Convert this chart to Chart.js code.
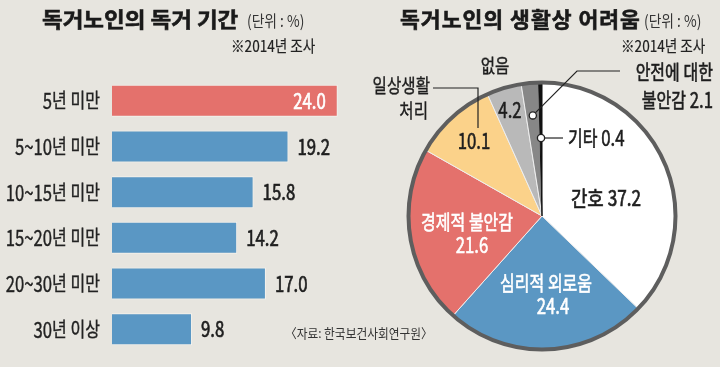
<!DOCTYPE html>
<html><head><meta charset="utf-8">
<script src="https://cdn.jsdelivr.net/npm/chart.js@4/dist/chart.umd.min.js"></script>
<style>
html,body{margin:0;padding:0;background:#e7e5df;}
#wrap{position:relative;width:720px;height:367px;overflow:hidden;background:#e7e5df;color:#222;font-family:"Noto Sans CJK KR",sans-serif;}
.t{position:absolute;white-space:nowrap;line-height:1;transform-origin:0 0;}
.title{font-weight:700;font-size:21px;color:#1a1a1a;-webkit-text-stroke:0.6px #1a1a1a;}
.unit{font-size:16px;color:#333;transform:scaleX(0.86);}
.note{font-size:16px;color:#222;transform:scaleX(0.85);-webkit-text-stroke:0.2px #222;}
.src{font-size:13px;color:#333;transform:scaleX(0.9);}
canvas{position:absolute;}
</style></head><body>
<div id="wrap">
<canvas id="bar" width="360" height="367" style="left:0;top:0;width:360px;height:367px"></canvas>
<canvas id="pie" width="360" height="367" style="left:360px;top:0;width:360px;height:367px"></canvas>
<div class="t title" style="left:42px;top:8px;transform:scaleX(1.07)">독거노인의 독거 기간</div>
<div class="t unit" style="left:247px;top:12px">(단위 : %)</div>
<div class="t note" style="left:231px;top:37px">※2014년 조사</div>
<div class="t title" style="left:400px;top:8px;letter-spacing:1px;transform:scaleX(1.025)">독거노인의 생활상 어려움</div>
<div class="t unit" style="left:644px;top:12px">(단위 : %)</div>
<div class="t note" style="left:621px;top:37px">※2014년 조사</div>
<div class="t src" style="left:285px;top:326px">〈자료: 한국보건사회연구원〉</div>
</div>
<script>
// ---- data ----
const durationCategories = ['5년 미만','5~10년 미만','10~15년 미만','15~20년 미만','20~30년 미만','30년 이상'];
const durationValues = [24.0, 19.2, 15.8, 14.2, 17.0, 9.8];
const hardshipCategories = ['간호','심리적 외로움','경제적 불안감','일상생활 처리','없음','안전에 대한 불안감','기타'];
const hardshipValues = [37.2, 24.4, 21.6, 10.1, 4.2, 2.1, 0.4];

const KR = '"Noto Sans CJK KR",sans-serif';
const RED = '#e4716c', BLUE = '#5a97c4';

// condensed text: Hangul runs and other runs with own size / horizontal scale
function drawMixed(ctx, text, x, y, align, st, color){
  const runs = [];
  const re = /[\uAC00-\uD7A3\u3130-\u318F]+|[^\uAC00-\uD7A3\u3130-\u318F]+/g;
  let m;
  while((m = re.exec(text))){
    const isKr = /[\uAC00-\uD7A3\u3130-\u318F]/.test(m[0]);
    runs.push({s:m[0], size: isKr ? st.kr : st.num, sx: isKr ? st.krs : st.nums});
  }
  let total = 0;
  runs.forEach(r=>{ ctx.font = `${r.size}px ${KR}`; r.w = ctx.measureText(r.s).width * r.sx; total += r.w; });
  let cx = align==='center' ? x - total/2 : align==='right' ? x - total : x;
  runs.forEach(r=>{
    ctx.save();
    ctx.font = `${r.size}px ${KR}`;
    ctx.fillStyle = color; ctx.strokeStyle = color; ctx.lineWidth = st.bold || 0.5;
    ctx.textAlign = 'left'; ctx.textBaseline = 'middle';
    ctx.translate(cx, y); ctx.scale(r.sx, 1);
    ctx.fillText(r.s, 0, 0);
    ctx.strokeText(r.s, 0, 0);
    ctx.restore();
    cx += r.w;
  });
}

const ST_TICK = {kr:20, krs:0.8, num:22, nums:0.76, bold:0.4};
const ST_VAL = {kr:19, krs:0.8, num:21.5, nums:0.78, bold:0.7};

const barLabels = {
  id:'barLabels',
  afterDatasetsDraw(chart){
    const ctx = chart.ctx;
    const meta = chart.getDatasetMeta(0);
    const ys = chart.scales.y;
    ys.getLabels().forEach((lab,i)=>{
      drawMixed(ctx, lab, ys.right - 12, ys.getPixelForValue(i), 'right', ST_TICK, '#222');
    });
    meta.data.forEach((bar,i)=>{
      const v = durationValues[i].toFixed(1);
      if(i===0) drawMixed(ctx, v, bar.x-12, bar.y, 'right', ST_VAL, '#ffffff');
      else drawMixed(ctx, v, bar.x+9, bar.y, 'left', ST_VAL, '#1e1e1e');
    });
  }
};

new Chart(document.getElementById('bar'), {
  type:'bar',
  data:{
    labels: durationCategories,
    datasets:[{
      data: durationValues,
      backgroundColor: durationValues.map((v,i)=> i===0 ? RED : BLUE),
      borderColor:'#f4f2ee', borderWidth:1, borderSkipped:false,
      barPercentage:0.7, categoryPercentage:1
    }]
  },
  options:{
    indexAxis:'y', responsive:false, animation:false, events:[],
    layout:{padding:{top:78,bottom:15,right:12,left:0}},
    plugins:{legend:{display:false}, tooltip:{enabled:false}},
    scales:{
      x:{display:false, min:2, max:25},
      y:{
        grid:{display:false, drawTicks:false}, border:{display:false},
        ticks:{display:false},
        afterFit(s){ s.width = 112; s.paddingTop = 0; s.paddingBottom = 0; }
      }
    }
  },
  plugins:[barLabels]
});

const pieRing = {
  id:'pieRing',
  afterDatasetsDraw(chart){
    const a = chart.getDatasetMeta(0).data[0];
    const ctx = chart.ctx;
    ctx.save();
    ctx.beginPath();
    ctx.arc(a.x, a.y, a.outerRadius - 1, 0, Math.PI*2);
    ctx.lineWidth = 4; ctx.strokeStyle = '#5e5e5e'; ctx.stroke();
    ctx.restore();
  }
};

const ST_IN = {kr:20, krs:0.8, num:21.5, nums:0.78, bold:0.6};
const ST_OUT = {kr:19.5, krs:0.8, num:21, nums:0.78, bold:0.4};
const ST_BIG = {kr:21, krs:0.85, num:21.5, nums:0.8, bold:0.7};

const pieLabels = {
  id:'pieLabels',
  afterDraw(chart){
    const ctx = chart.ctx;
    const arcs = chart.getDatasetMeta(0).data;
    const cx = arcs[0].x, cy = arcs[0].y;
    const pt = (i, r)=>{ const m=(arcs[i].startAngle+arcs[i].endAngle)/2; return [cx + r*Math.cos(m), cy + r*Math.sin(m)]; };
    ctx.save();
    ctx.strokeStyle = '#222'; ctx.lineWidth = 1.2;
    ctx.beginPath();
    ctx.moveTo(cx-109, cy-128); ctx.lineTo(cx-64, cy-128); ctx.lineTo(cx-64, cy-88);
    ctx.stroke();
    const pSafe = pt(5, 101);
    ctx.beginPath(); ctx.moveTo(pSafe[0], pSafe[1]); ctx.lineTo(cx+35, cy-145); ctx.lineTo(cx+78, cy-145); ctx.stroke();
    const pEtc = pt(6, 78);
    ctx.beginPath(); ctx.moveTo(pEtc[0], pEtc[1]); ctx.lineTo(cx+21, pEtc[1]); ctx.stroke();
    [pSafe, pEtc].forEach(p=>{
      ctx.beginPath(); ctx.arc(p[0], p[1], 3.6, 0, Math.PI*2);
      ctx.fillStyle='#ffffff'; ctx.fill(); ctx.lineWidth=1.3; ctx.strokeStyle='#222'; ctx.stroke();
    });
    ctx.restore();
    drawMixed(ctx, `${hardshipCategories[0]} ${hardshipValues[0].toFixed(1)}`, cx+64, cy-18, 'center', ST_BIG, '#1e1e1e');
    drawMixed(ctx, hardshipCategories[1], cx+4, cy+67, 'center', ST_IN, '#ffffff');
    drawMixed(ctx, hardshipValues[1].toFixed(1), cx+11, cy+90, 'center', ST_IN, '#ffffff');
    drawMixed(ctx, hardshipCategories[2], cx-75, cy+6, 'center', ST_IN, '#ffffff');
    drawMixed(ctx, hardshipValues[2].toFixed(1), cx-70, cy+29, 'center', ST_IN, '#ffffff');
    drawMixed(ctx, '일상생활', cx-112, cy-130, 'right', ST_OUT, '#1e1e1e');
    drawMixed(ctx, '처리', cx-114, cy-105, 'right', ST_OUT, '#1e1e1e');
    drawMixed(ctx, hardshipValues[3].toFixed(1), cx-68, cy-75, 'center', ST_IN, '#1e1e1e');
    drawMixed(ctx, hardshipCategories[4], cx-47, cy-150, 'center', ST_OUT, '#1e1e1e');
    drawMixed(ctx, hardshipValues[4].toFixed(1), cx-32, cy-106, 'center', ST_IN, '#1e1e1e');
    drawMixed(ctx, '안전에 대한', cx+171, cy-144, 'right', ST_IN, '#1e1e1e');
    drawMixed(ctx, `불안감 ${hardshipValues[5].toFixed(1)}`, cx+171, cy-116, 'right', ST_IN, '#1e1e1e');
    drawMixed(ctx, `${hardshipCategories[6]} ${hardshipValues[6].toFixed(1)}`, cx+26, cy-78, 'left', ST_IN, '#1e1e1e');
  }
};

new Chart(document.getElementById('pie'), {
  type:'pie',
  data:{
    labels: hardshipCategories,
    datasets:[{
      data: hardshipValues,
      backgroundColor:['#ffffff', '#5b97c3', '#e4716c', '#fbd28a', '#b9b9b9', '#878787', '#111111'],
      borderColor:['#eeeeee','#eeeeee','#eeeeee','#eeeeee','#eeeeee','#eeeeee','#111111'],
      borderWidth:1
    }]
  },
  options:{
    responsive:false, animation:false, events:[],
    layout:{padding:{left:47,right:43,top:81,bottom:16}},
    plugins:{legend:{display:false}, tooltip:{enabled:false}}
  },
  plugins:[pieRing, pieLabels]
});
</script>
</body></html>
